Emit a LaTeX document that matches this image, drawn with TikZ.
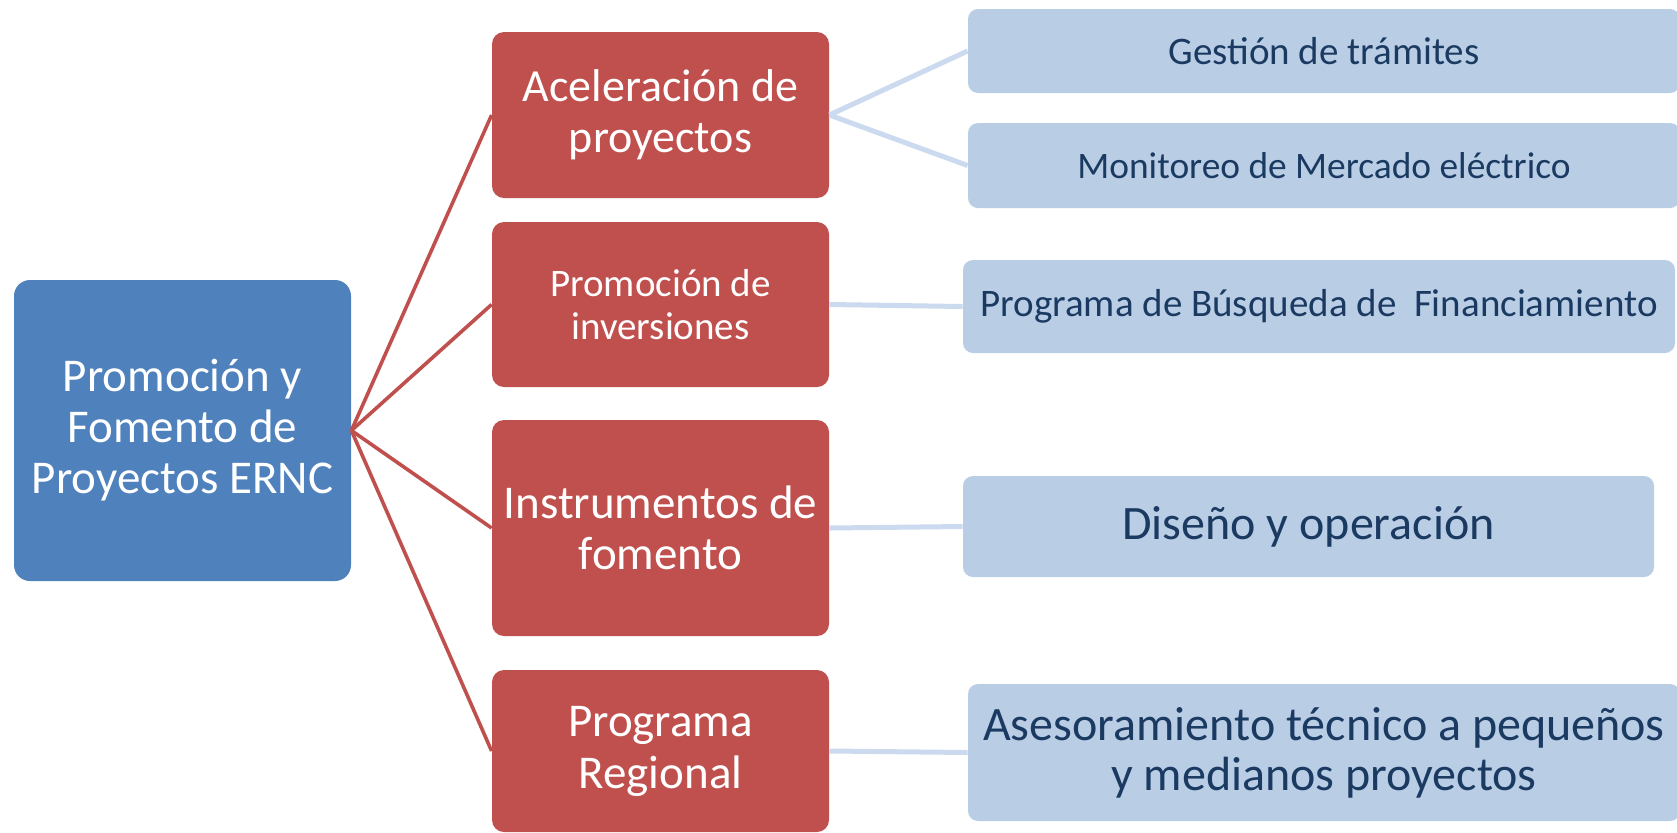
\documentclass[tikz,border=0pt]{standalone}
\usepackage{fontspec}
\setmainfont{Carlito}
\usepackage{tikz}
\usetikzlibrary{positioning}
\definecolor{rootblue}{HTML}{4F81BD}
\definecolor{branchred}{HTML}{C0504D}
\definecolor{leafblue}{HTML}{B9CDE5}
\definecolor{linkblue}{HTML}{CBDAEE}
\definecolor{leaftext}{HTML}{1B3A62}
\tikzset{
    rootbox/.style={rectangle, rounded corners=8pt, fill=rootblue, text=white, align=center, minimum width=168.5pt, minimum height=150.5pt, inner sep=0pt, font=\fontsize{23.5}{25.5}\selectfont},
    branch/.style={rectangle, rounded corners=6pt, fill=branchred, text=white, align=center, minimum width=168.5pt, inner sep=0pt},
    leaf/.style={rectangle, rounded corners=5pt, fill=leafblue, text=leaftext, align=center, inner sep=0pt},
    redlink/.style={draw=branchred, line width=1.8pt},
    bluelink/.style={draw=linkblue, line width=2.5pt}
}

\begin{document}
\begin{tikzpicture}[x=0.5pt, y=-0.5pt]
    \useasboundingbox (0,0) rectangle (1677,832);
    \clip (0,0) rectangle (1677,832);

    % Main node
    \node (Root) [rootbox] at (182.5, 430.5) {Promoción y\\Fomento de\\Proyectos ERNC};

    % Branches
    \node (Acel) [branch, minimum height=83pt, font=\fontsize{23}{25.5}\selectfont] at (660.5, 115) {Aceleración de\\proyectos};
    \node (Promo) [branch, minimum height=82.5pt, font=\fontsize{19.5}{21.5}\selectfont] at (660.5, 304.5) {Promoción de\\inversiones};
    \node (Instr) [branch, minimum height=108pt, font=\fontsize{23.5}{25.5}\selectfont] at (660.5, 528) {Instrumentos de\\fomento};
    \node (Regional) [branch, minimum height=81pt, font=\fontsize{23.5}{26}\selectfont] at (660.5, 751) {Programa\\Regional};

    % Leaves
    \node (Gest) [leaf, minimum width=356pt, minimum height=42pt, font=\fontsize{19.5}{22}\selectfont] at (1324, 51) {Gestión de trámites};
    \node (Monit) [leaf, minimum width=356pt, minimum height=42.5pt, font=\fontsize{18.7}{22}\selectfont] at (1324, 165.5) {Monitoreo de Mercado eléctrico};
    \node (Busq) [leaf, minimum width=356pt, minimum height=46.5pt, font=\fontsize{19.5}{22}\selectfont] at (1319, 306.5) {Programa de Búsqueda de\ \ Financiamiento};
    \node (Dis) [leaf, minimum width=345.5pt, minimum height=50.5pt, font=\fontsize{24}{26}\selectfont] at (1308.5, 526.5) {Diseño y operación};
    \node (Ases) [leaf, minimum width=356pt, minimum height=68.5pt, font=\fontsize{24}{25}\selectfont] at (1324, 752.5) {Asesoramiento técnico a pequeños\\y medianos proyectos};

    % Connectors
    \draw[redlink] (Root.east) -- (Acel.west);
    \draw[redlink] (Root.east) -- (Promo.west);
    \draw[redlink] (Root.east) -- (Instr.west);
    \draw[redlink] (Root.east) -- (Regional.west);

    \draw[bluelink] (Acel.east) -- (Gest.west);
    \draw[bluelink] (Acel.east) -- (Monit.west);
    \draw[bluelink] (Promo.east) -- (Busq.west);
    \draw[bluelink] (Instr.east) -- (Dis.west);
    \draw[bluelink] (Regional.east) -- (Ases.west);
\end{tikzpicture}
\end{document}
